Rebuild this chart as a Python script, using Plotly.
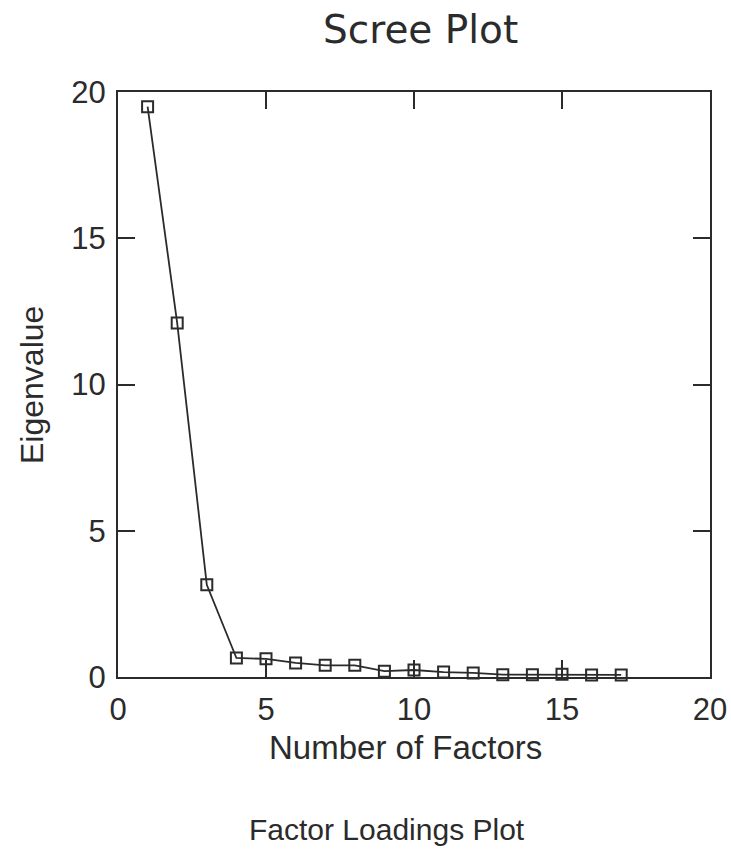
import plotly.graph_objects as go

factors = list(range(1, 18))
eigenvalues = [19.5, 12.1, 3.15, 0.65, 0.62, 0.48, 0.4, 0.4, 0.2, 0.24, 0.17, 0.14, 0.08, 0.08, 0.09, 0.07, 0.07]
x_ticks = [0, 5, 10, 15, 20]
y_ticks = [0, 5, 10, 15, 20]

W, H = 731, 849
L, R, T, B = 118, 21, 92, 172
pw, ph = W - L - R, H - T - B

def px(x):
    return (x - L) / pw

def py(y):
    return (H - B - y) / ph

ink = "#2b2b2b"
fig = go.Figure()
fig.add_trace(go.Scatter(
    x=factors, y=eigenvalues, mode="lines+markers",
    line=dict(color=ink, width=1.8),
    marker=dict(symbol="square-open", size=11, color=ink, line=dict(width=2)),
    showlegend=False, cliponaxis=False,
))

axis_common = dict(
    showline=True, mirror="ticks", linecolor=ink, linewidth=2,
    ticks="inside", ticklen=17, tickwidth=2, tickcolor=ink,
    showgrid=False, zeroline=False,
    tickfont=dict(family="Liberation Sans", size=31, color=ink),
)

fig.update_layout(
    width=W, height=H,
    paper_bgcolor="white", plot_bgcolor="white",
    margin=dict(l=L, r=R, t=T, b=B, autoexpand=False),
    xaxis=dict(range=[0, 20], tickvals=x_ticks, ticktext=[str(v) for v in x_ticks],
               ticklabelstandoff=4, **axis_common),
    yaxis=dict(range=[0, 20], tickvals=y_ticks, ticktext=[str(v) for v in y_ticks],
               ticklabelstandoff=4, **axis_common),
    annotations=[
        dict(text="Scree Plot", x=px(420), y=py(30), xref="paper", yref="paper",
             xanchor="center", yanchor="middle", showarrow=False,
             font=dict(family="DejaVu Sans", size=39, color=ink)),
        dict(text="Number of Factors", x=px(405), y=py(747), xref="paper", yref="paper",
             xanchor="center", yanchor="middle", showarrow=False,
             font=dict(family="Liberation Sans", size=33, color=ink)),
        dict(text="Eigenvalue", x=px(32), y=py(385), xref="paper", yref="paper",
             xanchor="center", yanchor="middle", showarrow=False, textangle=-90,
             font=dict(family="Liberation Sans", size=32, color=ink)),
        dict(text="Factor Loadings Plot", x=px(387), y=py(829), xref="paper", yref="paper",
             xanchor="center", yanchor="middle", showarrow=False,
             font=dict(family="Liberation Sans", size=30, color=ink)),
    ],
)
fig.write_html("out.html", config={"displayModeBar": False},
               post_script="document.body.style.margin='0';document.body.style.overflow='hidden';")
